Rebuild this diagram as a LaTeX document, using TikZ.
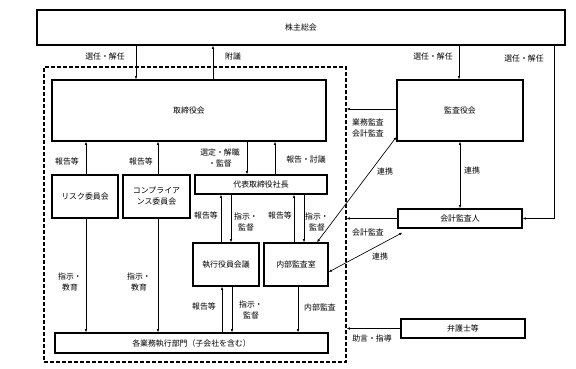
\documentclass[tikz,border=0pt]{standalone}
\usepackage{fontspec}
\setmainfont{Noto Sans CJK JP}
\usetikzlibrary{arrows.meta}
\begin{document}
\begin{tikzpicture}[x=1pt,y=-1pt,
  every node/.style={font=\fontsize{7.9pt}{11pt}\selectfont, inner sep=0pt},
  box/.style={draw, line width=1.35pt, align=center},
  dashbox/.style={draw, line width=1.3pt, dash pattern=on 4pt off 2pt},
  arr/.style={line width=0.65pt, -{Latex[length=3.2pt,width=2.6pt]}},
  darr/.style={line width=0.65pt, {Latex[length=3.2pt,width=2.6pt]}-{Latex[length=3.2pt,width=2.6pt]}},
  lbl/.style={align=center}]
\useasboundingbox (0,0) rectangle (576,369);
\fill[white] (0,0) rectangle (576,369);
% boxes
\node[box, minimum width=528pt, minimum height=35pt] (sh) at (301,27.5) {株主総会};
\node[dashbox, minimum width=302pt, minimum height=295pt] (dash) at (195,214.5) {};
\node[box, minimum width=274pt, minimum height=61pt] (bod) at (189,110.5) {取締役会};
\node[box, minimum width=126pt, minimum height=61pt] (kansa) at (460,110.5) {監査役会};
\node[box, minimum width=66pt, minimum height=43pt] (risk) at (85,196.5) {リスク委員会};
\node[box, minimum width=67pt, minimum height=43pt] (comp) at (156.5,196.5) {コンプライア\\ンス委員会};
\node[box, minimum width=132pt, minimum height=19pt] (ceo) at (261,184.5) {代表取締役社長};
\node[box, minimum width=66pt, minimum height=43pt] (exec) at (226,264.5) {執行役員会議};
\node[box, minimum width=64pt, minimum height=43pt] (audit) at (296,264.5) {内部監査室};
\node[box, minimum width=273pt, minimum height=20pt] (dept) at (191.5,343) {各業務執行部門（子会社を含む）};
\node[box, minimum width=124pt, minimum height=19pt] (acc) at (460,218.5) {会計監査人};
\node[box, minimum width=124pt, minimum height=19pt] (law) at (463,328.5) {弁護士等};
% helper coordinates
\coordinate (xa) at (136,0);
\coordinate (xb) at (213,0);
\coordinate (xc) at (459,0);
\coordinate (xd) at (554,0);
\coordinate (xr) at (86,0);
\coordinate (xq) at (158,0);
\coordinate (xe) at (247,0);
\coordinate (xf) at (275,0);
\coordinate (xg) at (221,0);
\coordinate (xh) at (231,0);
\coordinate (xi) at (294,0);
\coordinate (xj) at (304,0);
\coordinate (xk) at (222,0);
\coordinate (xl) at (232,0);
\coordinate (xm) at (298,0);
\coordinate (xn) at (317,0);
\coordinate (y109) at (0,109);
\coordinate (y137) at (0,137);
\coordinate (y272) at (0,272);
% top arrows
\draw[arr] (sh.south -| xa) -- (bod.north -| xa);
\node[lbl] (l1) at (105,57) {選任・解任};
\draw[arr] (bod.north -| xb) -- (sh.south -| xb);
\node[lbl] (l2) at (233,57) {附議};
\draw[arr] (sh.south -| xc) -- (kansa.north -| xc);
\node[lbl] (l3) at (433,57) {選任・解任};
\draw[arr] (sh.south -| xd) -- (xd |- acc.east) -- (acc.east);
\node[lbl] (l4) at (524,59) {選任・解任};
% kansa side
\draw[arr] (kansa.west |- y109) -- (dash.east |- y109);
\node[lbl] (l5) at (368,128.5) {業務監査\\会計監査};
\draw[darr] (kansa.south) -- (acc.north);
\node[lbl] (l6) at (472,171) {連携};
\draw[darr] (audit.north -| xn) -- (kansa.west |- y137);
\node[lbl] (l7) at (385,172) {連携};
\draw[arr] (acc.west) -- (dash.east |- acc.west);
\node[lbl] (l8) at (368,233) {会計監査};
\draw[darr] ([xshift=5pt,yshift=-4pt]acc.south west) -- (audit.east |- y272);
\node[lbl] (l9) at (380,257) {連携};
\draw[arr] (law.west) -- (dash.east |- law.west);
\node[lbl] (l10) at (372,338) {助言・指導};
% committees
\draw[arr] (risk.north -| xr) -- (bod.south -| xr);
\node[lbl] (l11) at (67,162) {報告等};
\draw[arr] (comp.north -| xq) -- (bod.south -| xq);
\node[lbl] (l12) at (141,162) {報告等};
\draw[arr] (risk.south -| xr) -- (dept.north -| xr);
\node[lbl] (l13) at (70,282) {指示・\\教育};
\draw[arr] (comp.south -| xq) -- (dept.north -| xq);
\node[lbl] (l14) at (139,282) {指示・\\教育};
% board - ceo
\draw[arr] (bod.south -| xe) -- (ceo.north -| xe);
\node[lbl] (l15) at (220,158) {選定・解職\\・監督};
\draw[arr] (ceo.north -| xf) -- (bod.south -| xf);
\node[lbl] (l16) at (306,160) {報告・討議};
% ceo - exec / audit
\draw[arr] (exec.north -| xg) -- (ceo.south -| xg);
\node[lbl] (l17) at (206,216) {報告等};
\draw[arr] (ceo.south -| xh) -- (exec.north -| xh);
\node[lbl] (l18) at (246,222) {指示・\\監督};
\draw[arr] (audit.north -| xi) -- (ceo.south -| xi);
\node[lbl] (l19) at (280,216) {報告等};
\draw[arr] (ceo.south -| xj) -- (audit.north -| xj);
\node[lbl] (l20) at (317,222) {指示・\\監督};
% exec / audit - dept
\draw[arr] (dept.north -| xk) -- (exec.south -| xk);
\node[lbl] (l21) at (204,307) {報告等};
\draw[arr] (exec.south -| xl) -- (dept.north -| xl);
\node[lbl] (l22) at (251,310) {指示・\\監督};
\draw[arr] (audit.south -| xm) -- (dept.north -| xm);
\node[lbl] (l23) at (320,308) {内部監査};
\end{tikzpicture}
\end{document}
